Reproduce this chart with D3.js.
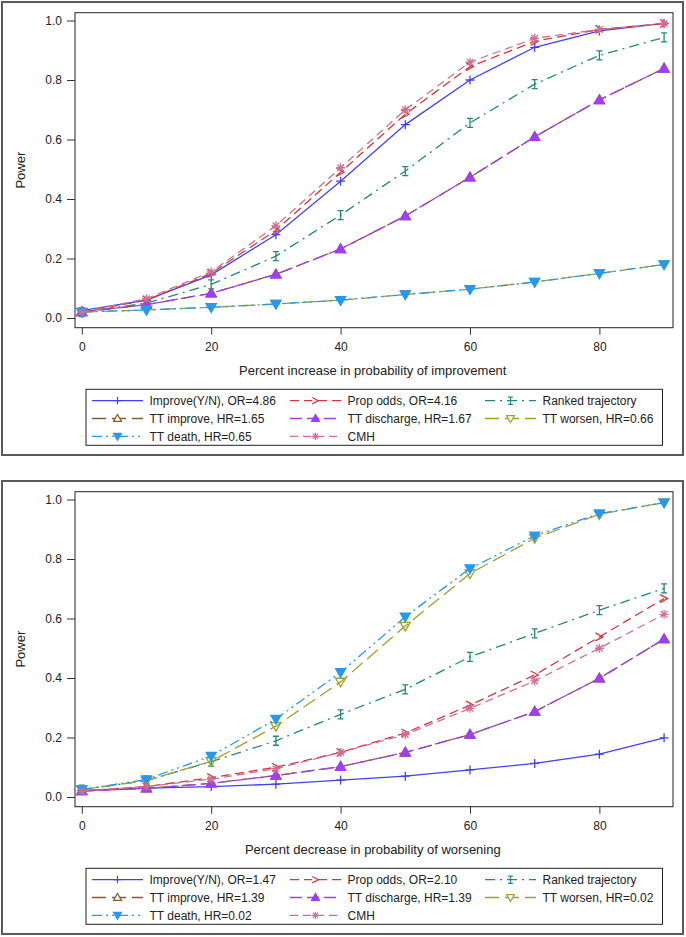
<!DOCTYPE html>
<html><head><meta charset="utf-8">
<script src="https://cdn.jsdelivr.net/npm/d3@7"></script>
<style>
html,body{margin:0;padding:0;background:#fff;}
svg{display:block;font-family:"Liberation Sans",Arial,sans-serif;}
</style></head>
<body><svg id="chart" width="686" height="937"></svg>
<script>
// ---------- DATA ----------
const xValues = [0, 10, 20, 30, 40, 50, 60, 70, 80, 90];
const xTicks = [0, 20, 40, 60, 80];
const yTicks = [0, 0.2, 0.4, 0.6, 0.8, 1.0];
const seriesNames = ["Improve", "PropOdds", "Ranked", "TTImprove", "TTDischarge", "TTWorsen", "TTDeath", "CMH"];

// top panel: percent increase in probability of improvement
const topImprove     = [0.025, 0.060, 0.145, 0.280, 0.460, 0.650, 0.800, 0.910, 0.965, 0.990];
const topPropOdds    = [0.020, 0.060, 0.150, 0.295, 0.490, 0.685, 0.845, 0.930, 0.970, 0.990];
const topRanked      = [0.020, 0.050, 0.113, 0.208, 0.346, 0.494, 0.656, 0.786, 0.883, 0.943];
const topTTImprove   = [0.020, 0.045, 0.083, 0.147, 0.232, 0.343, 0.473, 0.609, 0.733, 0.839];
const topTTDischarge = [0.020, 0.045, 0.083, 0.147, 0.232, 0.343, 0.473, 0.609, 0.733, 0.839];
const topTTWorsen    = [0.020, 0.027, 0.036, 0.047, 0.060, 0.079, 0.097, 0.121, 0.150, 0.180];
const topTTDeath     = [0.020, 0.027, 0.036, 0.047, 0.060, 0.079, 0.097, 0.121, 0.150, 0.180];
const topCMH         = [0.020, 0.065, 0.155, 0.310, 0.505, 0.700, 0.860, 0.940, 0.970, 0.990];
const topLabels = ["Improve(Y/N), OR=4.86", "Prop odds, OR=4.16", "Ranked trajectory",
  "TT improve, HR=1.65", "TT discharge, HR=1.67", "TT worsen, HR=0.66",
  "TT death, HR=0.65", "CMH"];
const topXTitle = "Percent increase in probability of improvement";

// bottom panel: percent decrease in probability of worsening
const botImprove     = [0.022, 0.030, 0.035, 0.043, 0.057, 0.070, 0.091, 0.113, 0.144, 0.199];
const botPropOdds    = [0.020, 0.035, 0.065, 0.100, 0.150, 0.215, 0.309, 0.410, 0.538, 0.667];
const botRanked      = [0.025, 0.055, 0.119, 0.189, 0.278, 0.362, 0.471, 0.550, 0.628, 0.701];
const botTTImprove   = [0.020, 0.029, 0.046, 0.072, 0.102, 0.150, 0.210, 0.287, 0.399, 0.531];
const botTTDischarge = [0.020, 0.029, 0.046, 0.072, 0.102, 0.150, 0.210, 0.287, 0.399, 0.531];
const botTTWorsen    = [0.025, 0.055, 0.120, 0.238, 0.387, 0.575, 0.751, 0.870, 0.950, 0.990];
const botTTDeath     = [0.025, 0.059, 0.138, 0.262, 0.419, 0.606, 0.768, 0.878, 0.953, 0.989];
const botCMH         = [0.020, 0.035, 0.060, 0.095, 0.150, 0.210, 0.298, 0.390, 0.500, 0.614];
const botLabels = ["Improve(Y/N), OR=1.47", "Prop odds, OR=2.10", "Ranked trajectory",
  "TT improve, HR=1.39", "TT discharge, HR=1.39", "TT worsen, HR=0.02",
  "TT death, HR=0.02", "CMH"];
const botXTitle = "Percent decrease in probability of worsening";
const yTitle = "Power";

// ---------- STYLES ----------
const styles = {
  Improve:     {color: "#4040f8", dash: null,               marker: "plus",    fill: false},
  PropOdds:    {color: "#d2363f", dash: "9,5",              marker: "arrow",   fill: false},
  Ranked:      {color: "#23877a", dash: "10,5,2,5",         marker: "ibar",    fill: false},
  TTImprove:   {color: "#8a5a2e", dash: "14,6",             marker: "triUp",   fill: false},
  TTDischarge: {color: "#a03ef0", dash: "12,5",             marker: "triUp",   fill: true},
  TTWorsen:    {color: "#a0a030", dash: "14,6",             marker: "triDown", fill: false},
  TTDeath:     {color: "#2698ee", dash: "10,4,2,4,2,4",     marker: "triDown", fill: true},
  CMH:         {color: "#cf6f93", dash: "8,5",              marker: "star",    fill: false}
};
function markerPath(m) {
  switch (m) {
    case "plus": return "M-4.5,0H4.5M0,-4.5V4.5";
    case "arrow": return "M-4,-4L3.5,0L-4,4";
    case "ibar": return "M-3,-4.5H3M0,-4.5V4.5M-3,4.5H3";
    case "triUp": return "M0,-5L5,3.6L-5,3.6Z";
    case "triDown": return "M0,5L5,-3.6L-5,-3.6Z";
    case "star": return "M-4.5,0H4.5M0,-4.5V4.5M-3.3,-3.3L3.3,3.3M-3.3,3.3L3.3,-3.3";
  }
}

const svg = d3.select("#chart");

function drawPanel(offset, seriesData, labels, xTitle) {
  const g = svg.append("g").attr("transform", `translate(0,${offset})`);
  // outer frame
  g.append("rect").attr("x", 2).attr("y", 2).attr("width", 681).attr("height", 453)
    .attr("fill", "none").attr("stroke", "#5a5a5a").attr("stroke-width", 2);

  const plot = {x0: 75, x1: 673, y0: 12.7, y1: 327.7};
  const x = d3.scaleLinear().domain([0, 90]).range([81.8, 664.1]);
  const y = d3.scaleLinear().domain([0, 1]).range([318, 20.5]);

  // axes
  const yAxis = g.append("g").attr("transform", `translate(${plot.x0},0)`)
    .call(d3.axisLeft(y).tickValues(yTicks).tickFormat(d3.format(".1f")).tickSize(8).tickPadding(5));
  const xAxis = g.append("g").attr("transform", `translate(0,${plot.y1})`)
    .call(d3.axisBottom(x).tickValues(xTicks).tickFormat(d3.format("d")).tickSize(7).tickPadding(8));
  [yAxis, xAxis].forEach(a => {
    a.select(".domain").remove();
    a.selectAll("line").attr("stroke", "#333");
    a.selectAll("text").attr("font-size", 12).attr("fill", "#222")
      .attr("font-family", "'Liberation Sans',Arial,sans-serif");
  });

  // plot frame
  g.append("rect").attr("x", plot.x0).attr("y", plot.y0)
    .attr("width", plot.x1 - plot.x0).attr("height", plot.y1 - plot.y0)
    .attr("fill", "none").attr("stroke", "#222").attr("stroke-width", 1);

  // titles
  g.append("text").attr("x", 372.8).attr("y", 375).attr("text-anchor", "middle")
    .attr("font-size", 13).attr("fill", "#222").text(xTitle);
  g.append("text").attr("transform", `translate(25,${(plot.y0 + plot.y1) / 2}) rotate(-90)`)
    .attr("text-anchor", "middle").attr("font-size", 13).attr("fill", "#222").text(yTitle);

  const line = d3.line().x((d, i) => x(xValues[i])).y(d => y(d));
  seriesNames.forEach((name, si) => {
    const st = styles[name];
    const vals = seriesData[si];
    g.append("path").attr("d", line(vals)).attr("fill", "none")
      .attr("stroke", st.color).attr("stroke-width", 1.3)
      .attr("stroke-dasharray", st.dash);
    g.selectAll(null).data(vals).enter().append("path")
      .attr("transform", (d, i) => `translate(${x(xValues[i])},${y(d)})`)
      .attr("d", markerPath(st.marker))
      .attr("fill", st.fill ? st.color : "none")
      .attr("stroke", st.color).attr("stroke-width", 1.3);
  });

  // legend
  g.append("rect").attr("x", 86).attr("y", 389.3).attr("width", 576.5).attr("height", 56)
    .attr("fill", "#fff").attr("stroke", "#222").attr("stroke-width", 1);
  const colX = [92, 290, 485];
  const rowY = [400.7, 418.5, 436.3];
  seriesNames.forEach((name, si) => {
    const st = styles[name];
    const cx = colX[si % 3], cy = rowY[Math.floor(si / 3)];
    const lg = g.append("g");
    lg.append("line").attr("x1", cx).attr("x2", cx + 51).attr("y1", cy).attr("y2", cy)
      .attr("stroke", st.color).attr("stroke-width", 1.3).attr("stroke-dasharray", st.dash);
    lg.append("path").attr("transform", `translate(${cx + 25.5},${cy}) scale(0.8)`)
      .attr("d", markerPath(st.marker)).attr("fill", st.fill ? st.color : "#fff")
      .attr("stroke", st.color).attr("stroke-width", 1.5);
    lg.append("text").attr("x", cx + 57.5).attr("y", cy + 4.3).attr("font-size", 12)
      .attr("fill", "#222").text(labels[si]);
  });
}

drawPanel(0, [topImprove, topPropOdds, topRanked, topTTImprove, topTTDischarge, topTTWorsen, topTTDeath, topCMH], topLabels, topXTitle);
drawPanel(479, [botImprove, botPropOdds, botRanked, botTTImprove, botTTDischarge, botTTWorsen, botTTDeath, botCMH], botLabels, botXTitle);
</script></body></html>
